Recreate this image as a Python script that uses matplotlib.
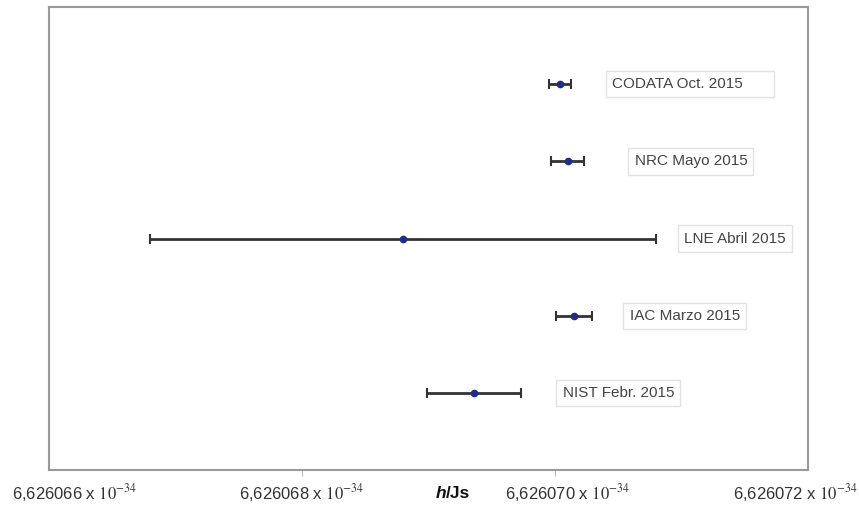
import matplotlib.pyplot as plt
import matplotlib.ticker as ticker

# values of h in units of 1e-34 J s
labels = ["NIST Febr. 2015", "IAC Marzo 2015", "LNE Abril 2015",
          "NRC Mayo 2015", "CODATA Oct. 2015"]
h_vals = [6.62606936, 6.62607015, 6.6260688, 6.6260701, 6.62607004]
h_err = [0.00000037, 0.00000014, 0.0000020, 0.00000013, 0.00000009]
label_x = [6.62607006, 6.62607059, 6.62607102, 6.62607063, 6.62607045]
label_pad = ["", "", "", "", "      "]

xtick_text = ["6,626066 x $10^{-34}$", "6,626068 x $10^{-34}$",
              "6,626070 x $10^{-34}$", "6,626072 x $10^{-34}$"]
xtick_pos = [6.6260662, 6.626068, 6.6260701, 6.6260719]

plt.rcParams['font.family'] = ['Liberation Sans', 'DejaVu Sans']
plt.rcParams['mathtext.fontset'] = 'stix'

fig = plt.figure(figsize=(8.59, 5.07), dpi=100)
ax = fig.add_axes([0.057, 0.073, 0.8835, 0.913])

y = list(range(1, len(labels) + 1))
ax.errorbar(h_vals, y, xerr=h_err, fmt='o', color='#1f2b8f', ms=4.5,
            ecolor='#333333', elinewidth=2, capsize=3.5, capthick=1.5, zorder=3)

for xi, yi, lab, pad in zip(label_x, y, labels, label_pad):
    ax.text(xi, yi, lab + pad, fontsize=11, color='#444444', va='center', ha='left',
            bbox=dict(boxstyle='square,pad=0.4', fc='white', ec='#e2e2e2', lw=1))

ax.set_xlim(6.626066, 6.626072)
ax.set_ylim(0, 6)
ax.set_yticks([])
ax.xaxis.set_major_locator(ticker.FixedLocator([6.626068, 6.626070]))
ax.tick_params(axis='x', length=4, color='#bbbbbb', labelbottom=False)

for s in ax.spines.values():
    s.set_color('#9a9a9a')
    s.set_linewidth(1.5)

for xp, t in zip(xtick_pos, xtick_text):
    ax.text(xp, -0.3, t, fontsize=12, color='#333333',
            ha='center', va='center', clip_on=False)

# axis title: italic h, then /Js
ax.text(6.62606914, -0.3, "h", fontsize=12.5, fontweight='bold', style='italic',
        ha='right', va='center', color='#111111', clip_on=False)
ax.text(6.62606914, -0.3, "/Js", fontsize=12.5, fontweight='bold',
        ha='left', va='center', color='#111111', clip_on=False)

fig.savefig('out.png', dpi=100)
